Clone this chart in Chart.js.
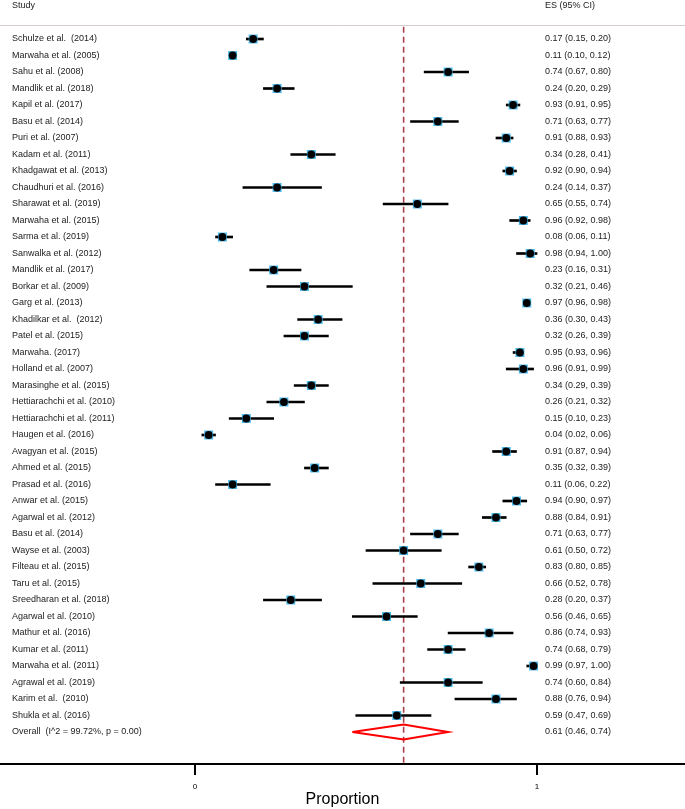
<!DOCTYPE html>
<html>
<head>
<meta charset="utf-8">
<script src="https://cdn.jsdelivr.net/npm/chart.js@4"></script>
<style>
  body { margin: 0; background: #fff; }
  canvas { display: block; }
</style>
</head>
<body>
<canvas id="forestPlot" width="685" height="809"></canvas>
<script>
const studies = [
  "Schulze et al.  (2014)", "Marwaha et al. (2005)", "Sahu et al. (2008)", "Mandlik et al. (2018)",
  "Kapil et al. (2017)", "Basu et al. (2014)", "Puri et al. (2007)", "Kadam et al. (2011)",
  "Khadgawat et al. (2013)", "Chaudhuri et al. (2016)", "Sharawat et al. (2019)", "Marwaha et al. (2015)",
  "Sarma et al. (2019)", "Sanwalka et al. (2012)", "Mandlik et al. (2017)", "Borkar et al. (2009)",
  "Garg et al. (2013)", "Khadilkar et al.  (2012)", "Patel et al. (2015)", "Marwaha. (2017)",
  "Holland et al. (2007)", "Marasinghe et al. (2015)", "Hettiarachchi et al. (2010)", "Hettiarachchi et al. (2011)",
  "Haugen et al. (2016)", "Avagyan et al. (2015)", "Ahmed et al. (2015)", "Prasad et al. (2016)",
  "Anwar et al. (2015)", "Agarwal et al. (2012)", "Basu et al. (2014)", "Wayse et al. (2003)",
  "Filteau et al. (2015)", "Taru et al. (2015)", "Sreedharan et al. (2018)", "Agarwal et al. (2010)",
  "Mathur et al. (2016)", "Kumar et al. (2011)", "Marwaha et al. (2011)", "Agrawal et al. (2019)",
  "Karim et al.  (2010)", "Shukla et al. (2016)"
];
const es = [
  0.17, 0.11, 0.74, 0.24, 0.93, 0.71, 0.91, 0.34, 0.92, 0.24, 0.65, 0.96, 0.08, 0.98,
  0.23, 0.32, 0.97, 0.36, 0.32, 0.95, 0.96, 0.34, 0.26, 0.15, 0.04, 0.91, 0.35, 0.11,
  0.94, 0.88, 0.71, 0.61, 0.83, 0.66, 0.28, 0.56, 0.86, 0.74, 0.99, 0.74, 0.88, 0.59
];
const ciLow = [
  0.15, 0.10, 0.67, 0.20, 0.91, 0.63, 0.88, 0.28, 0.90, 0.14, 0.55, 0.92, 0.06, 0.94,
  0.16, 0.21, 0.96, 0.30, 0.26, 0.93, 0.91, 0.29, 0.21, 0.10, 0.02, 0.87, 0.32, 0.06,
  0.90, 0.84, 0.63, 0.50, 0.80, 0.52, 0.20, 0.46, 0.74, 0.68, 0.97, 0.60, 0.76, 0.47
];
const ciHigh = [
  0.20, 0.12, 0.80, 0.29, 0.95, 0.77, 0.93, 0.41, 0.94, 0.37, 0.74, 0.98, 0.11, 1.00,
  0.31, 0.46, 0.98, 0.43, 0.39, 0.96, 0.99, 0.39, 0.32, 0.23, 0.06, 0.94, 0.39, 0.22,
  0.97, 0.91, 0.77, 0.72, 0.85, 0.78, 0.37, 0.65, 0.93, 0.79, 1.00, 0.84, 0.94, 0.69
];
const overallLabel = "Overall  (I^2 = 99.72%, p = 0.00)";
const overallES = 0.61;
const overallLow = 0.46;
const overallHigh = 0.74;
const xTicks = [0, 1];
const xTitle = "Proportion";

const overallRow = studies.length;
const rows = studies.map((s, i) => i);
const fmt = (e, lo, hi) => `${e.toFixed(2)} (${lo.toFixed(2)}, ${hi.toFixed(2)})`;

const FONT = '"Liberation Sans", Arial, Helvetica, sans-serif';
const Y_MIN = -2.364, Y_MAX = 43.94; // rows top to bottom
const HEADER_ROW = -2, HEADER_LINE = -0.85;

// text columns + header rule, placed with the chart's own scales
const textColumns = {
  id: 'textColumns',
  afterDatasetsDraw(chart) {
    const { ctx, scales: { y } } = chart;
    ctx.save();
    ctx.fillStyle = '#222';
    ctx.font = `9px ${FONT}`;
    ctx.textBaseline = 'middle';
    ctx.textAlign = 'left';
    ctx.fillText('Study', 12, y.getPixelForValue(HEADER_ROW));
    ctx.fillText('ES (95% CI)', 545, y.getPixelForValue(HEADER_ROW));
    studies.forEach((s, i) => {
      const py = y.getPixelForValue(i);
      ctx.fillText(s, 12, py);
      ctx.fillText(fmt(es[i], ciLow[i], ciHigh[i]), 545, py);
    });
    const po = y.getPixelForValue(overallRow);
    ctx.fillText(overallLabel, 12, po);
    ctx.fillText(fmt(overallES, overallLow, overallHigh), 545, po);

    const ly = Math.round(y.getPixelForValue(HEADER_LINE)) + 0.5;
    ctx.strokeStyle = '#d6cdcd';
    ctx.lineWidth = 1;
    ctx.beginPath();
    ctx.moveTo(0, ly);
    ctx.lineTo(chart.width, ly);
    ctx.stroke();
    ctx.restore();
  }
};

const ctx = document.getElementById('forestPlot').getContext('2d');
new Chart(ctx, {
  type: 'scatter',
  data: {
    datasets: [
      {
        // point estimate dots
        data: rows.map(i => ({ x: es[i], y: i })),
        pointStyle: 'circle',
        pointRadius: 3.9,
        backgroundColor: '#000',
        borderWidth: 0,
        order: 0
      },
      {
        // weight boxes
        data: rows.map(i => ({ x: es[i], y: i })),
        pointStyle: 'rect',
        pointRadius: 6.3,
        backgroundColor: '#43b2e4',
        borderWidth: 0,
        order: 1
      },
      {
        // confidence intervals
        type: 'bar',
        indexAxis: 'y',
        data: rows.map(i => ({ y: i, x: [ciLow[i], ciHigh[i]] })),
        backgroundColor: '#000',
        borderWidth: 0,
        barThickness: 2,
        grouped: false,
        order: 2
      },
      {
        // overall diamond
        data: [
          { x: overallLow, y: overallRow },
          { x: overallES, y: overallRow - 0.45 },
          { x: overallHigh, y: overallRow },
          { x: overallES, y: overallRow + 0.45 },
          { x: overallLow, y: overallRow }
        ],
        showLine: true,
        borderColor: '#ff0000',
        borderWidth: 2,
        pointRadius: 0,
        tension: 0,
        fill: false,
        order: 0
      },
      {
        // overall estimate reference line
        data: [
          { x: overallES, y: HEADER_LINE + 0.1 },
          { x: overallES, y: Y_MAX }
        ],
        showLine: true,
        borderColor: '#a8404a',
        borderWidth: 1.6,
        borderDash: [6, 4],
        pointRadius: 0,
        order: 3
      }
    ]
  },
  options: {
    responsive: false,
    animation: false,
    layout: { padding: 0, autoPadding: false },
    plugins: {
      legend: { display: false },
      tooltip: { enabled: false }
    },
    scales: {
      x: {
        type: 'linear',
        min: -0.5702,
        max: 1.4327,
        bounds: 'data',
        afterBuildTicks: scale => { scale.ticks = xTicks.map(v => ({ value: v })); },
        afterFit: scale => {
          scale.height = 45;
          scale.paddingLeft = 0;
          scale.paddingRight = 0;
        },
        grid: {
          drawOnChartArea: false,
          drawTicks: true,
          tickLength: 11,
          color: '#000',
          lineWidth: 2
        },
        border: { display: true, color: '#000', width: 2 },
        ticks: {
          font: { size: 8, family: FONT },
          color: '#000',
          padding: 7,
          maxRotation: 0
        },
        title: {
          display: true,
          text: xTitle,
          font: { size: 16, family: FONT },
          color: '#000',
          padding: { top: 0, bottom: 0 }
        }
      },
      y: {
        type: 'linear',
        reverse: true,
        min: Y_MIN,
        max: Y_MAX,
        bounds: 'data',
        offset: false,
        display: false
      }
    }
  },
  plugins: [textColumns]
});
</script>
</body>
</html>
